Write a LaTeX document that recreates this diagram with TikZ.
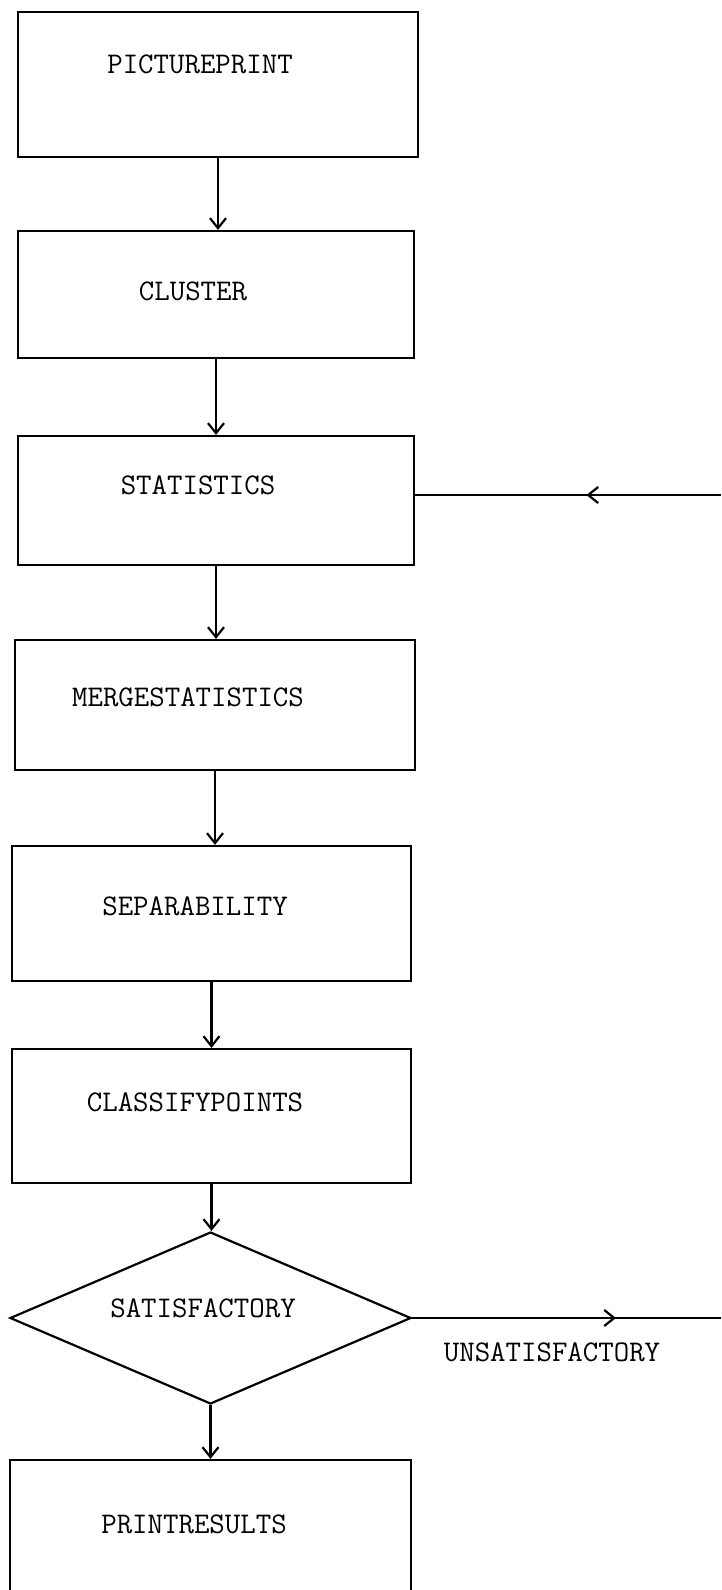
\documentclass[tikz,border=0pt]{standalone}
\usepackage{fontspec}
\usetikzlibrary{arrows.meta,decorations.markings,shapes.geometric}
\tikzset{
  box/.style={draw, line width=2.2pt, inner sep=0pt, rectangle},
  lbl/.style={font=\ttfamily\fontsize{30}{32}\selectfont, inner sep=0pt, anchor=center},
  arr/.style={line width=2.2pt, -{Straight Barb[length=10pt,width=16pt,line width=2.2pt]}},
  ln/.style={line width=2.2pt},
  midarr/.style={postaction={decorate}, decoration={markings,
      mark=at position #1 with {\arrow{Straight Barb[length=10pt,width=16pt,line width=2.2pt]}}}},
}
\begin{document}
\begin{tikzpicture}[x=1pt,y=-1pt]
\useasboundingbox (0,0) rectangle (721,1590);
% boxes
\node[box, minimum width=400pt, minimum height=145pt] (b1) at (218,84.5) {};
\node[box, minimum width=396pt, minimum height=127pt] (b2) at (216,294.5) {};
\node[box, minimum width=396pt, minimum height=129pt] (b3) at (216,500.5) {};
\node[box, minimum width=400pt, minimum height=130pt] (b4) at (215,705) {};
\node[box, minimum width=399pt, minimum height=135pt] (b5) at (211.5,913.5) {};
\node[box, minimum width=399pt, minimum height=134pt] (b6) at (211.5,1116) {};
\node[draw, line width=2.2pt, shape=diamond, inner sep=0pt, minimum width=401pt, minimum height=172pt] (d) at (210.5,1318) {};
\node[box, minimum width=401pt, minimum height=140pt] (b7) at (210.5,1530) {};
% texts
\node[lbl] (t1) at (200,64) {PICTUREPRINT};
\node[lbl] (t2) at (193,291) {CLUSTER};
\node[lbl] (t3) at (198,485) {STATISTICS};
\node[lbl] (t4) at (188,697) {MERGESTATISTICS};
\node[lbl] (t5) at (195,906) {SEPARABILITY};
\node[lbl] (t6) at (195,1102) {CLASSIFYPOINTS};
\node[lbl] (t7) at (203,1308) {SATISFACTORY};
\node[lbl] (t8) at (552,1352) {UNSATISFACTORY};
\node[lbl] (t9) at (194,1524) {PRINTRESULTS};
% vertical arrows
\draw[arr] (b1.south) -- (b1.south |- b2.north);
\draw[arr] (b2.south) -- (b2.south |- b3.north);
\draw[arr] (b3.south) -- (b3.south |- b4.north);
\draw[arr] (b4.south) -- (b4.south |- b5.north);
\draw[arr] (b5.south) -- (b5.south |- b6.north);
\draw[arr] (b6.south) -- (b6.south |- d.north);
\draw[arr] (d.south) -- (d.south |- b7.north);
% loop lines
\coordinate (fb) at (721,495);
\coordinate (un) at (721,1318);
\draw[ln, midarr=0.44] (fb) -- (fb -| b3.east);
\draw[ln, midarr=0.66] (d.east) -- (un);
\end{tikzpicture}
\end{document}
